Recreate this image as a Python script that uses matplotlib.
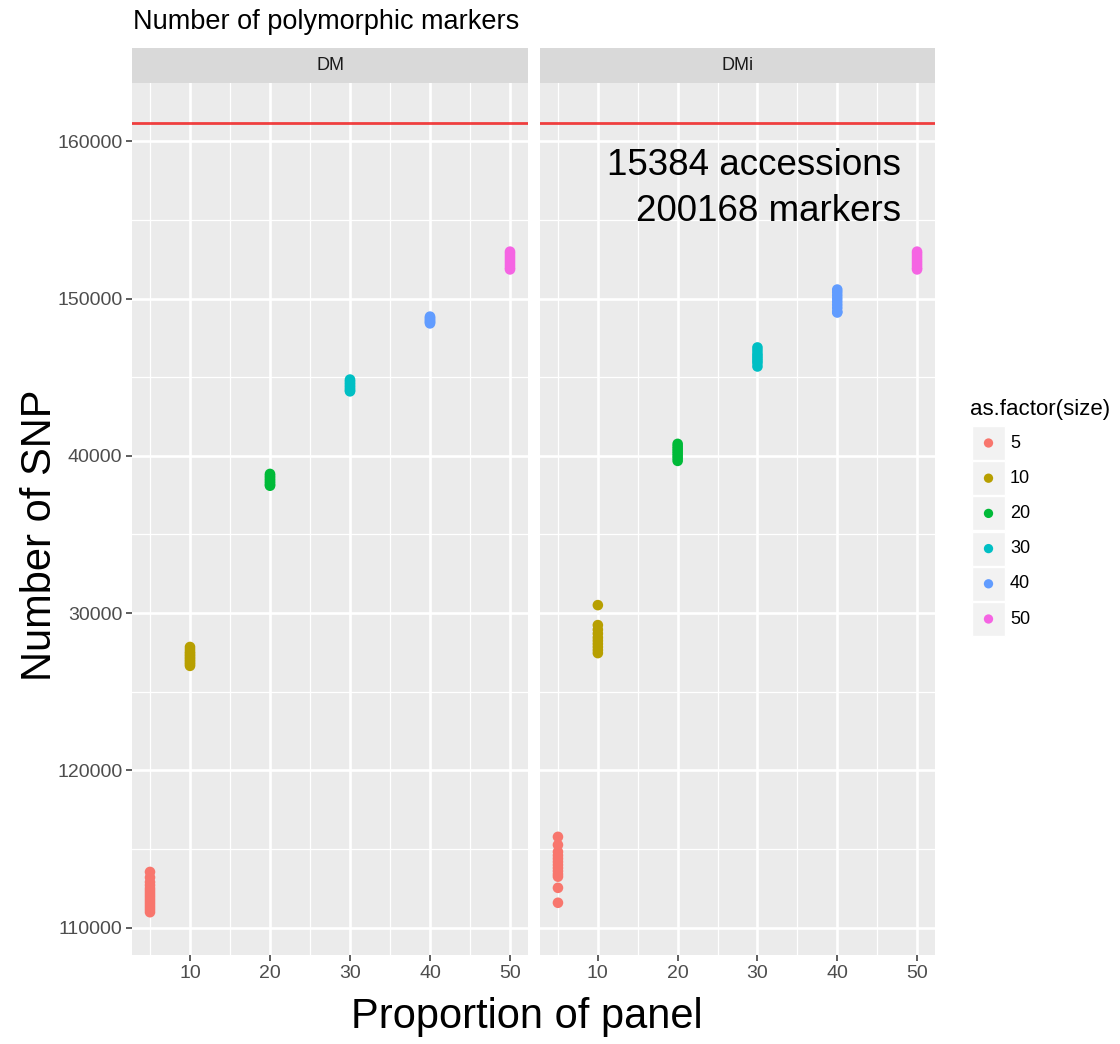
"""
SNP counts per proportion of panel, faceted DM / DMi (ggplot-like look).
"""
import numpy as np
import matplotlib.pyplot as plt
from matplotlib.patches import Rectangle

plt.rcParams['font.family'] = ['Liberation Sans', 'DejaVu Sans']

# ---------- data ----------
sizes = [5, 10, 20, 30, 40, 50]
size_colors = ["#F8766D", "#B79F00", "#00BA38", "#00BFC4", "#619CFF", "#F564E3"]
panels = ["DM", "DMi"]

dm_5 = [113550, 113200, 112900, 112700, 112500, 112350, 112200, 112050,
        111900, 111750, 111600, 111450, 111300, 111150, 110990]
dm_10 = [127850, 127700, 127550, 127450, 127350, 127250, 127150, 127050,
         126950, 126850, 126750, 126650]
dm_20 = [138850, 138750, 138650, 138550, 138450, 138350, 138250, 138150, 138100]
dm_30 = [144850, 144750, 144650, 144550, 144450, 144350, 144250, 144150, 144100]
dm_40 = [148850, 148780, 148700, 148620, 148550, 148480, 148420]
dm_50 = [152980, 152850, 152700, 152550, 152400, 152250, 152100, 151950, 151850]

dmi_5 = [115780, 115270, 114830, 114600, 114400, 114200, 114000, 113800,
         113600, 113400, 113250, 112540, 111590]
dmi_10 = [130510, 129240, 128950, 128700, 128450, 128250, 128050, 127850,
          127650, 127460]
dmi_20 = [140760, 140600, 140450, 140300, 140150, 140000, 139850, 139680]
dmi_30 = [146890, 146700, 146500, 146350, 146200, 146050, 145900, 145680]
dmi_40 = [150570, 150400, 150200, 150000, 149800, 149600, 149400, 149170, 149110]
dmi_50 = [152980, 152850, 152700, 152550, 152400, 152250, 152100, 151950, 151850]

snp = {
    "DM": [dm_5, dm_10, dm_20, dm_30, dm_40, dm_50],
    "DMi": [dmi_5, dmi_10, dmi_20, dmi_30, dmi_40, dmi_50],
}
total_markers_line = 161140

y_ticks = [110000, 120000, 130000, 140000, 150000, 160000]
y_ticklabels = ["110000", "120000", "30000", "40000", "150000", "160000"]
x_ticks = [10, 20, 30, 40, 50]
note = "15384 accessions\n200168 markers"

# ---------- layout (pixels) ----------
W, H = 1120, 1044
fig = plt.figure(figsize=(W / 100, H / 100), dpi=100)
fig.patch.set_facecolor("white")

def px_rect(x0, y0, x1, y1):
    return [x0 / W, (H - y1) / H, (x1 - x0) / W, (y1 - y0) / H]

panel_x = [(132, 528), (540, 935)]
panel_top, panel_bot = 83, 955
strip_top = 48

ylim = (108270, 163700)
xlim = (2.75, 52.25)

for k, name in enumerate(panels):
    x0, x1 = panel_x[k]
    ax = fig.add_axes(px_rect(x0, panel_top, x1, panel_bot))
    ax.set_facecolor("#EBEBEB")
    for s in ax.spines.values():
        s.set_visible(False)
    ax.set_xlim(*xlim)
    ax.set_ylim(*ylim)

    # grid
    for yv in [115000, 125000, 135000, 145000, 155000]:
        ax.axhline(yv, color="white", lw=0.9, zorder=0)
    for yv in y_ticks:
        ax.axhline(yv, color="white", lw=1.9, zorder=0)
    for xv in [5, 15, 25, 35, 45]:
        ax.axvline(xv, color="white", lw=0.9, zorder=0)
    for xv in x_ticks:
        ax.axvline(xv, color="white", lw=1.9, zorder=0)

    ax.axhline(total_markers_line, color="#F02020", lw=2.0, zorder=2, alpha=0.85)

    for size, col, vals in zip(sizes, size_colors, snp[name]):
        ax.scatter([size] * len(vals), vals, s=58, color=col,
                   edgecolors="none", zorder=3)

    ax.set_xticks(x_ticks)
    ax.set_xticklabels([str(v) for v in x_ticks])
    ax.tick_params(axis="x", length=4, width=1.1, color="#333333",
                   labelsize=14, labelcolor="#4D4D4D", pad=3)
    ax.set_yticks(y_ticks)
    if k == 0:
        ax.set_yticklabels(y_ticklabels)
        ax.tick_params(axis="y", length=4, width=1.1, color="#333333",
                       labelsize=14, labelcolor="#4D4D4D", pad=3)
    else:
        ax.tick_params(axis="y", length=0, labelleft=False)

    if name == "DMi":
        ax.text(0.915, 0.925, note, transform=ax.transAxes, ha="right",
                va="top", fontsize=26.5, color="black", linespacing=1.4)

    # strip
    sax = fig.add_axes(px_rect(x0, strip_top, x1, panel_top))
    sax.set_facecolor("#D9D9D9")
    sax.set_xticks([])
    sax.set_yticks([])
    for s in sax.spines.values():
        s.set_visible(False)
    sax.text(0.5, 0.5, name, ha="center", va="center", fontsize=13,
             color="#1A1A1A", transform=sax.transAxes)

# titles
fig.text(133 / W, 1 - 22 / H, "Number of polymorphic markers", ha="left",
         va="center", fontsize=19.5, color="black")
fig.text(527 / W, 1 - 1017 / H, "Proportion of panel", ha="center",
         va="center", fontsize=30, color="black")
fig.text(40 / W, 1 - 535 / H, "Number of SNP", ha="center", va="center",
         rotation=90, fontsize=30, color="black")

# legend
fig.text(970 / W, 1 - 410 / H, "as.factor(size)", ha="left", va="center",
         fontsize=16, color="black")
lax = fig.add_axes([0, 0, 1, 1], facecolor="none")
lax.set_xlim(0, W)
lax.set_ylim(H, 0)
lax.axis("off")
for i, (size, col) in enumerate(zip(sizes, size_colors)):
    yc = 443 + i * 35.2
    lax.add_patch(Rectangle((972, yc - 17), 33, 34, facecolor="#F2F2F2",
                            edgecolor="white", lw=1))
    lax.scatter([988.5], [yc], s=45, color=col, edgecolors="none")
    lax.text(1010, yc, str(size), ha="left", va="center", fontsize=13,
             color="black")

fig.savefig("out.png", dpi=100)
